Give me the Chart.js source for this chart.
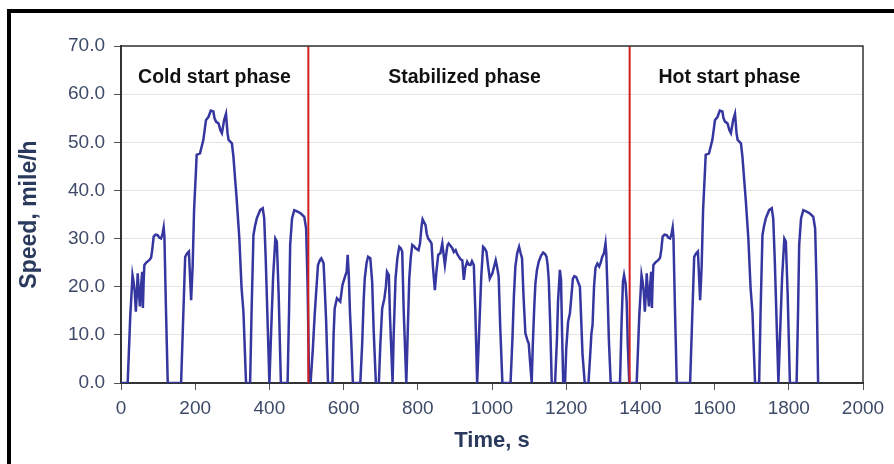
<!DOCTYPE html>
<html>
<head>
<meta charset="utf-8">
<script src="https://cdn.jsdelivr.net/npm/chart.js@4.4.1/dist/chart.umd.min.js"></script>
<style>
  html, body { margin:0; padding:0; background:#fff; overflow:hidden; }
  #wrap { position:relative; width:894px; height:464px; overflow:hidden; }
  #frame { position:absolute; left:7px; top:9px; width:1000px; height:700px; border:4px solid #000; box-sizing:border-box; }
  #c { position:absolute; left:0; top:0; }
</style>
</head>
<body>
<div id="wrap">
  <div id="frame"></div>
  <canvas id="c" width="894" height="464"></canvas>
</div>
<script>
// ---- Data (time in s, speed in mile/h) ----
const coldPhase = [
  [0,0],[18,0],[21,6],[25,14],[28,18],[31,22.4],[34,21],[37,19],[40,14.8],[43,19],[45,22.8],[48,19],
  [51,15.9],[54,20],[57,23.1],[59,15.6],[61,21],[63,24.5],[68,25],[76,25.5],[81,26],[84,27.5],[88,30.4],
  [93,30.8],[99,30.7],[103,30.2],[108,30],[112,31],[115,32.3],[117,30.4],[121,16],[126,0],[162,0],
  [167,12],[173,26.2],[178,26.9],[183,27.3],[185,24],[189,17.2],[193,24],[197,36],[202,44],[204,47.4],
  [213,47.7],[222,50.5],[229,54.6],[236,55.3],[242,56.6],[249,56.4],[252,55],[256,54.3],[263,53.9],
  [268,52.5],[272,51.9],[278,54.6],[283,55.9],[287,52],[290,50.5],[299,49.8],[303,47],[308,42],[312,38],
  [319,30],[325,19.7],[330,14.8],[337,0],[348,0],[352,15],[357,30.7],[361,32.5],[366,34.2],[375,35.9],
  [382,36.3],[386,34.2],[390,26],[393,18.3],[400,0],[405,11.4],[410,22],[416,30],[420,29.4],[425,18.3],
  [431,0],[449,0],[453,15],[456,28.7],[461,34.2],[467,35.9],[476,35.6],[485,35.2],[494,34.5],[499,32.1],
  [503,20],[507,0]
];
const stabilizedPhase = [
  [511,0],[517,7],[522,14.1],[527,20],[531,24.5],[536,25.5],[540,25.9],[546,24.9],[549,20],[553,12.7],
  [558,0],[570,0],[573,10],[576,15.5],[582,17.6],[587,17.2],[591,16.9],[597,20.4],[605,22.4],[608,23],
  [611,26.6],[614,22.4],[617,15],[620,10],[625,0],[645,0],[650,8],[654,17],[657,21.7],[662,25],[666,26.2],
  [672,25.9],[677,21],[681,11],[687,0],[695,0],[699,8],[704,15.5],[710,17.6],[714,20],[717,23.1],[722,22.4],
  [725,14],[732,0],[735,10],[740,21.7],[745,26],[750,28.3],[754,28],[758,27.3],[762,15],[769,0],[773,11],
  [777,21.7],[781,26],[785,28.7],[790,28.4],[794,28],[802,27.6],[806,29],[810,32.5],[813,34],[817,33.4],
  [821,32.8],[824,31],[828,30],[833,29.5],[837,29],[841,24],[846,19.3],[850,23],[855,26.6],[861,27],
  [866,29],[869,27],[873,24.5],[877,27],[880,28.6],[883,29],[888,28.5],[893,28],[897,27.2],[902,27.6],
  [906,26.8],[911,26.2],[915,25.7],[920,25.5],[924,21.4],[928,24],[933,25.2],[937,24.6],[942,24.5],
  [946,25.3],[951,24.5],[955,15],[960,0],[966,12],[971,22],[976,28.3],[980,28],[985,27.3],[990,24],
  [994,21.7],[1001,22.8],[1005,24],[1010,25.5],[1014,24],[1018,22.1],[1022,12],[1028,0],[1050,0],
  [1055,9],[1059,18],[1063,24.2],[1068,27],[1073,28.3],[1077,27],[1081,25.9],[1085,18],[1090,10.3],
  [1095,9],[1099,8.2],[1103,4],[1107,0],[1110,8],[1114,16],[1117,20.7],[1121,23.4],[1126,25.2],
  [1132,26.4],[1138,27.1],[1143,26.8],[1147,26.2],[1150,24.5],[1153,21.4],[1157,12],[1161,0],[1170,0],
  [1175,9],[1178,17],[1183,23.5],[1186,21.5],[1189,10],[1192,0],[1197,0],[1200,7],[1205,12.7],[1210,14.5],
  [1214,18],[1218,21.7],[1222,22.2],[1227,22],[1232,21],[1237,20],[1240,14],[1244,6],[1250,0],[1260,0],
  [1264,5],[1268,10.3],[1271,12],[1275,20],[1279,24],[1284,24.8],[1289,24.2],[1293,25],[1297,26.2],
  [1302,27],[1306,29],[1308,27],[1311,20],[1315,9],[1320,0],[1345,0],[1349,12],[1353,21],[1356,22.4],
  [1360,20.7],[1363,17],[1366,8],[1370,0]
];
const hotPhase = [
  [1372,0],[1390,0],[1393,6],[1397,14],[1400,18],[1403,22.4],[1406,21],[1409,19],[1412,14.8],[1415,19],
  [1417,22.8],[1420,19],[1423,15.9],[1426,20],[1429,23.1],[1431,15.6],[1433,21],[1435,24.5],[1440,25],
  [1448,25.5],[1453,26],[1456,27.5],[1460,30.4],[1465,30.8],[1471,30.7],[1475,30.2],[1480,30],[1484,31],
  [1487,32.3],[1489,30.4],[1493,16],[1498,0],[1534,0],[1539,12],[1545,26.2],[1550,26.9],[1555,27.3],
  [1557,24],[1561,17.2],[1565,24],[1569,36],[1574,44],[1576,47.4],[1585,47.7],[1594,50.5],[1601,54.6],
  [1608,55.3],[1614,56.6],[1621,56.4],[1624,55],[1628,54.3],[1635,53.9],[1640,52.5],[1644,51.9],
  [1650,54.6],[1655,55.9],[1659,52],[1662,50.5],[1671,49.8],[1675,47],[1680,42],[1684,38],[1691,30],
  [1697,19.7],[1702,14.8],[1709,0],[1720,0],[1724,15],[1729,30.7],[1733,32.5],[1738,34.2],[1747,35.9],
  [1754,36.3],[1758,34.2],[1762,26],[1765,18.3],[1772,0],[1777,11.4],[1782,22],[1788,30],[1792,29.4],
  [1797,18.3],[1803,0],[1821,0],[1825,15],[1828,28.7],[1833,34.2],[1839,35.9],[1848,35.6],[1857,35.2],
  [1866,34.5],[1871,32.1],[1875,20],[1879,0]
];
const phaseBoundaries = [505, 1371];
const phaseLabels = ['Cold start phase', 'Stabilized phase', 'Hot start phase'];
const phaseLabelTimes = [252, 926, 1640];
const phaseLabelSpeed = 63.4;

const xTicksMin = 0, xTicksMax = 2000, xTickStep = 200;
const yTicksMin = 0, yTicksMax = 70, yTickStep = 10;

const FONT = "'Liberation Sans', Arial, sans-serif";
const speedPoints = [...coldPhase, ...stabilizedPhase, ...hotPhase].map(([x, y]) => ({x, y}));

const framePlugin = {
  id: 'framePlugin',
  afterDatasetsDraw(chart) {
    const {ctx, chartArea: a, scales} = chart;
    ctx.save();
    ctx.strokeStyle = '#333';
    ctx.lineWidth = 1.5;
    ctx.beginPath();
    ctx.moveTo(a.left, a.top); ctx.lineTo(a.right, a.top); ctx.lineTo(a.right, a.bottom);
    ctx.stroke();
    ctx.fillStyle = '#111';
    ctx.font = "bold 19.5px " + FONT;
    ctx.textAlign = 'center';
    ctx.textBaseline = 'middle';
    phaseLabels.forEach((t, i) => {
      ctx.fillText(t, scales.x.getPixelForValue(phaseLabelTimes[i]), scales.y.getPixelForValue(phaseLabelSpeed));
    });
    ctx.restore();
  }
};

new Chart(document.getElementById('c'), {
  type: 'line',
  data: {
    datasets: [
      { data: speedPoints, borderColor: '#3636a0', borderWidth: 2.5, pointRadius: 0, tension: 0, order: 2, fill: false },
      ...phaseBoundaries.map(t => ({
        data: [{x: t, y: yTicksMin}, {x: t, y: yTicksMax}],
        borderColor: '#d21f1f', borderWidth: 2, pointRadius: 0, order: 1, fill: false
      }))
    ]
  },
  options: {
    responsive: false,
    animation: false,
    devicePixelRatio: 1,
    layout: { padding: { top: 46, right: 31, left: 0, bottom: 0 } },
    plugins: { legend: { display: false }, tooltip: { enabled: false } },
    scales: {
      x: {
        type: 'linear', min: xTicksMin, max: xTicksMax,
        ticks: { stepSize: xTickStep, color: '#3d4a68', font: { family: FONT, size: 19 }, padding: 7, maxRotation: 0, callback: v => String(v) },
        grid: { drawOnChartArea: false, drawTicks: true, tickLength: 7, tickColor: '#555' },
        border: { color: '#333', width: 2 },
        title: { display: true, text: 'Time, s', color: '#2a3a5c', font: { family: FONT, size: 22, weight: 'bold' }, padding: { top: 0, bottom: 10 } },
        afterFit(s) { s.height = 81; }
      },
      y: {
        min: yTicksMin, max: yTicksMax,
        ticks: { stepSize: yTickStep, color: '#3d4a68', font: { family: FONT, size: 19 }, padding: 9, callback: v => Number(v).toFixed(1) },
        grid: { color: '#e4e4e4', lineWidth: 1, tickLength: 7, tickColor: '#555' },
        border: { color: '#333', width: 2 },
        title: { display: true, text: 'Speed, mile/h', color: '#2a3a5c', font: { family: FONT, size: 23, weight: 'bold' }, padding: { top: 16, bottom: 0 } },
        afterFit(s) { s.width = 121; }
      }
    }
  },
  plugins: [framePlugin]
});
</script>
</body>
</html>
